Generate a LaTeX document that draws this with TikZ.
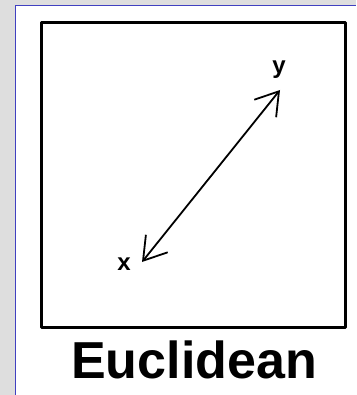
\documentclass[tikz,border=0pt]{standalone}
\usepackage{fontspec}
\setmainfont{Liberation Sans}
\usetikzlibrary{arrows.meta,positioning}
\definecolor{dmbg}{RGB}{222,222,222}
\definecolor{dmrule}{RGB}{64,64,192}
\tikzset{
  panel/.style={fill=white, draw=none},
  frame/.style={draw=black, line width=3pt},
  pt/.style={inner sep=0pt, font=\fontsize{24}{24}\selectfont\bfseries},
  title/.style={inner sep=0pt, font=\fontsize{52}{52}\selectfont\bfseries},
  arr/.style={{Straight Barb[length=22pt,width=28pt]}-{Straight Barb[length=22pt,width=28pt]}, line width=1.8pt},
  every picture/.append style={line join=round}
}
\begin{document}
\begin{tikzpicture}[x=1pt,y=-1pt]
  \useasboundingbox (0,0) rectangle (356,395);
  \fill[dmbg] (0,0) rectangle (356,395);
  \fill[panel] (15.5,5.5) rectangle (356,395);
  \draw[dmrule, line width=1.6pt] (15.5,395) -- (15.5,5.5) -- (356,5.5);
  \draw[frame] (41,23) rectangle (345,327);
  \node[pt] (y) at (279,70) {y};
  \node[pt] (x) at (124,264) {x};
  \coordinate (ya) at (280,90);
  \coordinate (xa) at (142,262);
  \draw[arr] (xa) -- (ya);
  \node[title] (lbl) at (194,360) {Euclidean};
\end{tikzpicture}
\end{document}
